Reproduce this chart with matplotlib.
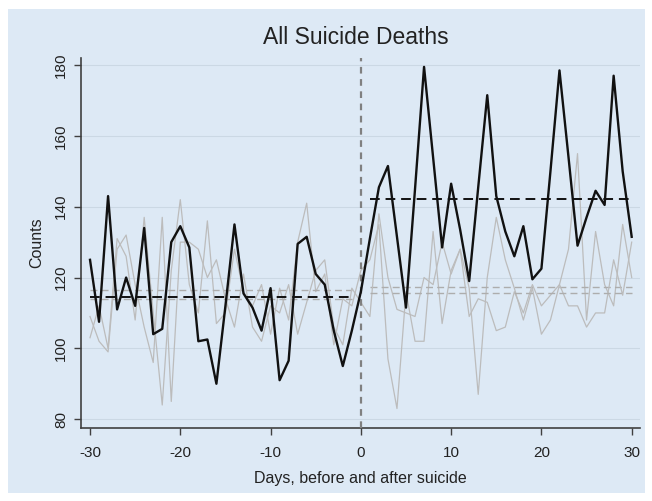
import matplotlib
matplotlib.use("Agg")
import matplotlib.pyplot as plt
import numpy as np

plt.rcParams['font.family'] = ['Liberation Sans', 'DejaVu Sans']
plt.rcParams['axes.unicode_minus'] = False

# days -30 .. 30
days = list(range(-30, 31))

# all suicide deaths (black)
counts = [125, 107.5, 143, 111, 120, 112, 134, 104, 105.5, 130,
          134.5, 128.5, 102, 102.5, 90, 112, 135, 115.5, 111.5, 105,
          117, 91, 96.5, 129.5, 131.5, 121, 118, 105, 95, 105,
          116,
          131, 145.5, 151.5, 131.5, 111.5, 145, 179.5, 154, 128.5, 146.5,
          133.5, 119, 145.5, 171.5, 143, 133, 126, 134.5, 119.5, 122.5,
          150, 178.5, 154, 129, 137, 144.5, 140.5, 177, 150, 131.5]

# comparison series (gray)
gray_a = [103, 112, 100, 131, 126, 108, 137, 110, 84, 122,
          142, 118, 110, 136, 107, 110, 128, 116, 112, 118,
          104, 117, 108, 130, 141, 116, 121, 101, 114, 112,
          122,
          125, 135, 97, 83, 116, 102, 102, 133, 107, 122,
          128, 117, 87, 120, 137, 125, 117, 108, 117, 104,
          108, 118, 128, 155, 108, 133, 118, 112, 135, 120]
gray_b = [109, 102, 99, 128, 132, 118, 106, 96, 137, 85,
          130, 130, 128, 120, 125, 114, 106, 121, 106, 102,
          112, 110, 118, 104, 113, 122, 125, 106, 101, 117,
          113,
          109, 138, 120, 111, 110, 109, 120, 118, 130, 121,
          128, 109, 114, 113, 105, 106, 116, 110, 118, 112,
          115, 118, 112, 112, 106, 110, 110, 125, 115, 130]

x_ticks = [-30, -20, -10, 0, 10, 20, 30]
y_ticks = [80, 100, 120, 140, 160, 180]

bg = "#dde9f5"
d = np.array(days)
pre = (d >= -30) & (d <= -1)
post = (d >= 1) & (d <= 30)

fig = plt.figure(figsize=(6.52, 5.01), dpi=100)
fig.patch.set_facecolor("white")
# light blue graph region with thin white margin
fig.add_artist(plt.Rectangle((0.012, 0.016), 0.977, 0.966, transform=fig.transFigure,
                             facecolor=bg, edgecolor="none", zorder=0))

ax = fig.add_axes([0.1238, 0.1457, 0.8578, 0.7385])
ax.set_facecolor(bg)

for yt in y_ticks:
    ax.axhline(yt, color="#cbd8e4", lw=0.8, zorder=1)

for s in (gray_a, gray_b):
    arr = np.array(s)
    ax.plot(days, s, color="#bcbcbc", lw=0.9, zorder=2)
    m1 = arr[pre].mean()
    m2 = arr[post].mean()
    ax.plot(d[pre], [m1] * pre.sum(), color="#adadad", lw=1.0, ls=(0, (5, 3)), zorder=2)
    ax.plot(d[post], [m2] * post.sum(), color="#adadad", lw=1.0, ls=(0, (5, 3)), zorder=2)

c = np.array(counts)
ax.plot(days, counts, color="#111111", lw=1.7, zorder=4)
ax.plot(d[pre], [c[pre].mean()] * pre.sum(), color="#111111", lw=1.4, ls=(0, (5, 3)), zorder=4)
ax.plot(d[post], [c[post].mean()] * post.sum(), color="#111111", lw=1.4, ls=(0, (5, 3)), zorder=4)

ax.axvline(0, color="#808080", lw=1.6, ls=(0, (3, 2.5)), zorder=3)

ax.set_xlim(-31.03, 30.92)
ax.set_ylim(77.5, 182)
ax.set_xticks(x_ticks)
ax.set_yticks(y_ticks)
ax.set_yticklabels([str(v) for v in y_ticks], rotation=90, va="center")
ax.tick_params(axis="both", direction="out", length=5, width=1.0, color="#404040",
               labelsize=11, labelcolor="#222222")
ax.tick_params(axis="x", pad=8)
ax.tick_params(axis="y", pad=4)
for side in ("top", "right"):
    ax.spines[side].set_visible(False)
for side in ("left", "bottom"):
    ax.spines[side].set_color("#404040")
    ax.spines[side].set_linewidth(1.2)

fig.text(0.546, 1 - 38 / 501, "All Suicide Deaths", fontsize=16.5, color="#222222",
         ha="center", va="center")
ax.set_xlabel("Days, before and after suicide", fontsize=11.5, color="#222222", labelpad=8)
ax.set_ylabel("Counts", fontsize=11.5, color="#222222", labelpad=7)

fig.savefig("out.png", dpi=100, facecolor="white")
